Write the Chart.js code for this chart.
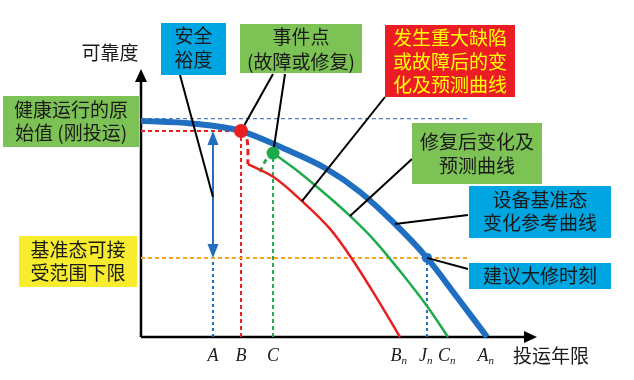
<!DOCTYPE html>
<html><head><meta charset="utf-8">
<script src="https://cdn.jsdelivr.net/npm/chart.js@4/dist/chart.umd.min.js"></script>
<style>html,body{margin:0;padding:0;background:#fff;}canvas{display:block}</style>
</head><body>
<canvas id="c" width="634" height="380"></canvas>
<script>
// ---------- DATA (years on x, reliability on y) ----------
const baselineX = [0, 2.90, 5.81, 8.36, 10.69, 12.72, 14.75, 16.61, 18.35, 20.10];
const baselineY = [1.0, 0.988, 0.953, 0.870, 0.782, 0.671, 0.523, 0.366, 0.185, 0];
const faultDropX = [5.81, 6.16, 6.21];
const faultDropY = [0.953, 0.912, 0.800];
const faultX = [6.21, 7.78, 9.35, 10.98, 12.14, 13.59, 15.04];
const faultY = [0.800, 0.736, 0.629, 0.500, 0.375, 0.194, 0];
const repairJumpX = [6.91, 7.26, 7.67];
const repairJumpY = [0.764, 0.819, 0.851];
const repairX = [7.67, 9.24, 10.98, 12.14, 13.59, 15.04, 16.61, 17.83];
const repairY = [0.851, 0.759, 0.643, 0.560, 0.444, 0.305, 0.143, 0];
const initialValue = 1.01;      // 健康运行的原始值
const eventValue = 0.953;       // 事件点可靠度 (B)
const lowerLimit = 0.366;       // 基准态可接受范围下限
const refLineEnd = 19.1;
const tickValues = [4.18, 5.81, 7.67, 15.04, 16.61, 17.83, 20.10];
const tickLabels = ['A', 'B', 'C', 'B_n', 'J_n', 'C_n', 'A_n'];
const eventPointB = [5.81, 0.953];
const eventPointC = [7.67, 0.851];
const overhaulPoint = [16.61, 0.366];
const yTitle = '可靠度';
const xTitle = '投运年限';

// ---------- styles ----------
const BLUE = '#1f6ec0', RED = '#ea1f1f', GREEN = '#1fab4b', ORANGE = '#f6a623';
const zip = (xs, ys) => xs.map((x, i) => ({x, y: ys[i]}));
const seg = (x0, y0, x1, y1) => [{x: x0, y: y0}, {x: x1, y: y1}];
const lineDs = (data, color, width, dash, order) => ({
  data, borderColor: color, borderWidth: width, borderDash: dash || [], pointRadius: 0,
  fill: false, tension: 0, clip: false, order
});
const smooth = {cubicInterpolationMode: 'monotone'};

const datasets = [
  lineDs(seg(0, initialValue, refLineEnd, initialValue), '#2a5fa8', 1, [4, 3], 20),
  lineDs(seg(0, eventValue, eventPointB[0], eventValue), RED, 2, [4, 3], 20),
  lineDs(seg(0, lowerLimit, refLineEnd, lowerLimit), ORANGE, 2, [4, 3], 20),
  lineDs(seg(tickValues[0], 0, tickValues[0], lowerLimit), BLUE, 2, [3, 3], 20),
  lineDs(seg(tickValues[1], 0, tickValues[1], eventValue), RED, 2, [4, 3], 20),
  lineDs(seg(tickValues[2], 0, tickValues[2], eventPointC[1]), GREEN, 2, [4, 3], 20),
  lineDs(seg(tickValues[4], 0, tickValues[4], lowerLimit), BLUE, 2, [3, 3], 20),
  Object.assign(lineDs(zip(faultDropX, faultDropY), RED, 3, [6, 4], 10), {tension: 0.3}),
  Object.assign(lineDs(zip(faultX, faultY), RED, 2.5, [], 10), smooth),
  Object.assign(lineDs(zip(repairJumpX, repairJumpY), GREEN, 3, [5, 4], 10), {tension: 0.3}),
  Object.assign(lineDs(zip(repairX, repairY), GREEN, 2.5, [], 10), smooth),
  Object.assign(lineDs(zip(baselineX, baselineY), BLUE, 6, [], 5), smooth),
  {data: [{x: eventPointB[0], y: eventPointB[1]}], showLine: false, pointRadius: 7, pointBackgroundColor: RED, pointBorderWidth: 0, clip: false, order: 1},
  {data: [{x: eventPointC[0], y: eventPointC[1]}], showLine: false, pointRadius: 6.5, pointBackgroundColor: GREEN, pointBorderWidth: 0, clip: false, order: 1},
  {data: [{x: overhaulPoint[0], y: overhaulPoint[1]}], showLine: false, pointRadius: 5, pointBackgroundColor: BLUE, pointBorderWidth: 0, clip: false, order: 1}
];

const CJK = "'Noto Sans CJK SC', sans-serif";
const boxes = [
  {x: 161, y: 23, w: 65, h: 52, fill: '#00a6e2', color: '#1a1a1a', lines: ['安全', '裕度'], ys: [36, 60]},
  {x: 240, y: 24, w: 122, h: 49, fill: '#7cc254', color: '#1a1a1a', lines: ['事件点', '(故障或修复)'], ys: [37, 62]},
  {x: 385, y: 25, w: 130, h: 72, fill: '#ec1c24', color: '#ffff00', lines: ['发生重大缺陷', '或故障后的变', '化及预测曲线'], ys: [38, 62, 85]},
  {x: 412, y: 123, w: 130, h: 61, fill: '#7cc254', color: '#1a1a1a', lines: ['修复后变化及', '预测曲线'], ys: [142, 166]},
  {x: 469, y: 186, w: 142, h: 52, fill: '#00a6e2', color: '#1a1a1a', lines: ['设备基准态', '变化参考曲线'], ys: [200, 223]},
  {x: 469, y: 263, w: 142, h: 26, fill: '#00a6e2', color: '#1a1a1a', lines: ['建议大修时刻'], ys: [276]},
  {x: 3, y: 96, w: 136, h: 51, fill: '#7cc254', color: '#1a1a1a', lines: ['健康运行的原', '始值 (刚投运)'], ys: [110, 133]},
  {x: 19, y: 236, w: 118, h: 51, fill: '#f7ed2e', color: '#1a1a1a', lines: ['基准态可接', '受范围下限'], ys: [250, 273]}
];
const leaders = [
  {from: [180, 75], to: [tickValues[0], 0.648], cut: 0},
  {from: [273, 74], to: eventPointB, cut: 7},
  {from: [285, 74], to: eventPointC, cut: 6},
  {from: [385, 97], to: [faultX[2], faultY[2]], cut: 0},
  {from: [412, 159], to: [repairX[3], repairY[3]], cut: 0},
  {from: [468, 215], to: [baselineX[6], baselineY[6]], cut: 0},
  {from: [468, 269], to: overhaulPoint, cut: 0}
];

function tri(ctx, x, y, dir, len, half) {
  ctx.beginPath();
  if (dir === 'up') { ctx.moveTo(x, y); ctx.lineTo(x - half, y + len); ctx.lineTo(x + half, y + len); }
  if (dir === 'down') { ctx.moveTo(x, y); ctx.lineTo(x - half, y - len); ctx.lineTo(x + half, y - len); }
  if (dir === 'right') { ctx.moveTo(x, y); ctx.lineTo(x - len, y - half); ctx.lineTo(x - len, y + half); }
  ctx.closePath(); ctx.fill();
}

const annot = {
  id: 'annot',
  beforeDatasetsDraw(chart) {
    const ctx = chart.ctx, xs = chart.scales.x, ys = chart.scales.y;
    const x0 = xs.getPixelForValue(0), y0 = ys.getPixelForValue(0);
    const xe = xs.getPixelForValue(xs.max), ye = ys.getPixelForValue(ys.max);
    ctx.save();
    ctx.strokeStyle = '#000'; ctx.fillStyle = '#000'; ctx.lineWidth = 2.5;
    ctx.beginPath(); ctx.moveTo(x0, y0); ctx.lineTo(x0, ye + 10); ctx.stroke();
    ctx.beginPath(); ctx.moveTo(x0, y0); ctx.lineTo(xe - 10, y0); ctx.stroke();
    ctx.restore();
  },
  afterDatasetsDraw(chart) {
    const ctx = chart.ctx, xs = chart.scales.x, ys = chart.scales.y;
    const px = v => xs.getPixelForValue(v), py = v => ys.getPixelForValue(v);
    const x0 = px(0), y0 = py(0), xe = px(xs.max), ye = py(ys.max);
    ctx.save();
    ctx.fillStyle = '#000';
    tri(ctx, x0, ye, 'up', 13, 6);
    tri(ctx, xe, y0, 'right', 13, 6);
    const ax = px(tickValues[0]), a1 = py(eventValue), a2 = py(lowerLimit);
    ctx.strokeStyle = BLUE; ctx.fillStyle = BLUE; ctx.lineWidth = 2;
    ctx.beginPath(); ctx.moveTo(ax, a1 + 10); ctx.lineTo(ax, a2 - 10); ctx.stroke();
    tri(ctx, ax, a1, 'up', 14, 5.5);
    tri(ctx, ax, a2, 'down', 14, 5.5);
    ctx.strokeStyle = '#000'; ctx.lineWidth = 2;
    leaders.forEach(l => {
      let tx = px(l.to[0]), ty = py(l.to[1]);
      const dx = tx - l.from[0], dy = ty - l.from[1], d = Math.hypot(dx, dy);
      if (l.cut) { tx -= dx / d * l.cut; ty -= dy / d * l.cut; }
      ctx.beginPath(); ctx.moveTo(l.from[0], l.from[1]); ctx.lineTo(tx, ty); ctx.stroke();
    });
    boxes.forEach(b => {
      ctx.fillStyle = b.fill; ctx.fillRect(b.x, b.y, b.w, b.h);
      ctx.fillStyle = b.color; ctx.font = '19px ' + CJK;
      ctx.textAlign = 'center'; ctx.textBaseline = 'middle';
      b.lines.forEach((t, i) => ctx.fillText(t, b.x + b.w / 2, b.ys[i]));
    });
    ctx.fillStyle = '#1a1a1a'; ctx.font = '19px ' + CJK;
    ctx.textAlign = 'center'; ctx.textBaseline = 'middle';
    ctx.fillText(yTitle, 110, 53);
    ctx.textAlign = 'left';
    ctx.fillText(xTitle, 513, 356);
    ctx.textBaseline = 'alphabetic';
    tickValues.forEach((v, i) => {
      const [m, s] = tickLabels[i].split('_');
      ctx.font = 'italic 18px "Liberation Serif", serif';
      const wm = ctx.measureText(m).width;
      const left = px(v) - wm / 2 - (s ? 4 : 0);
      ctx.textAlign = 'left';
      ctx.fillText(m, left, 361);
      if (s) { ctx.font = 'italic 11px "Liberation Serif", serif'; ctx.fillText(s, left + wm, 364); }
    });
    ctx.restore();
  }
};

new Chart(document.getElementById('c'), {
  type: 'line',
  data: {datasets},
  options: {
    responsive: false, animation: false, devicePixelRatio: 1,
    layout: {padding: {left: 141, right: 97, top: 69, bottom: 43}},
    plugins: {legend: {display: false}, tooltip: {enabled: false}},
    scales: {
      x: {type: 'linear', min: 0, max: 23, display: false},
      y: {type: 'linear', min: 0, max: 1.24, display: false}
    }
  },
  plugins: [annot]
});
</script>
</body></html>
